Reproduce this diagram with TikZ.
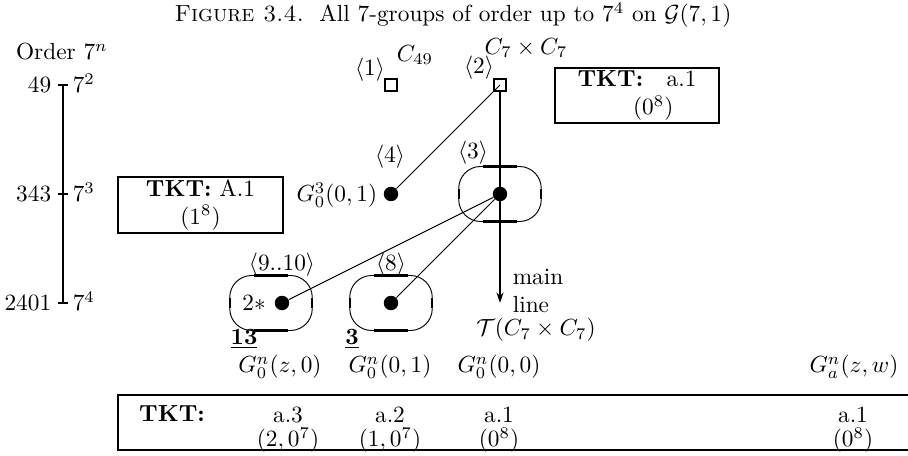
\documentclass[tikz,border=0pt]{standalone}
\usepackage{amsmath, amssymb}
\usetikzlibrary{positioning, arrows.meta, calc}

\begin{document}
\begin{tikzpicture}[
  x=0.429pt, y=-0.429pt,
  every node/.style={inner sep=1pt},
  box/.style={rectangle, draw, line width=1.1pt, inner sep=0pt, outer sep=0pt},
  sq/.style={rectangle, draw, line width=0.9pt, minimum size=5.1pt, inner sep=0pt, outer sep=0pt},
  grp/.style={circle, fill, minimum size=6.2pt, inner sep=0pt},
  oval/.style={rectangle, draw, rounded corners=9.4pt, minimum width=35.4pt, minimum height=23.6pt, inner sep=0pt, outer sep=0pt, line width=0.4pt},
  ovalseg/.style={line width=1pt},
  thin/.style={line width=0.45pt},
  arr/.style={-{Stealth[length=4.5pt, width=3pt]}, line width=0.9pt},
  axis/.style={line width=1.1pt}
]
\useasboundingbox (0,0) rectangle (908,456);
\clip (0,0) rectangle (908,456);

\node (title) at (453,15) {\textsc{Figure 3.4.}\ \ All 7-groups of order up to $7^4$ on $\mathcal{G}(7,1)$};
\node (order) at (62,52) {Order $7^n$};

\draw[axis] (63,85) -- (63,303);
\foreach \y/\num/\p in {85/49/2, 194/343/3, 303/2401/4} {
  \draw[axis] (58,\y) -- (68,\y);
  \node[anchor=base east] (o\p) at (54,\y+7.5) {$\num$};
  \node[anchor=base west] (p\p) at (70,\y+7.5) {$7^{\p}$};
}

\node[sq] (s1) at (391,85) {};
\node[sq] (s2) at (500,85) {};
\node[grp] (d4) at (391,194) {};
\node[oval] (o3) at (500,194) {};
\node[grp] (d3) at (500,194) {};
\node[oval] (o910) at (271,303) {};
\node[grp] (d910) at (282,303) {};
\node[oval] (o8) at (391,303) {};
\node[grp] (d8) at (391,303) {};
\coordinate (ml) at (500,303);

\foreach \o in {o3, o910, o8} {
  \draw[ovalseg] ([xshift=-7.3pt]\o.north) -- ([xshift=7.3pt]\o.north);
  \draw[ovalseg] ([xshift=-7.3pt]\o.south) -- ([xshift=7.3pt]\o.south);
  \draw[ovalseg] ([yshift=-2.1pt]\o.west) -- ([yshift=2.1pt]\o.west);
  \draw[ovalseg] ([yshift=-2.1pt]\o.east) -- ([yshift=2.1pt]\o.east);
}

\draw[arr] (s2) -- (ml);
\draw[thin] (s2.center) -- (d4);
\draw[thin] (d3) -- (d910);
\draw[thin] (d3) -- (d8);

\node (c49) at (415,55) {$C_{49}$};
\node (c77) at (526,48) {$C_7\times C_7$};
\node (l1) at (370,70) {$\langle 1\rangle$};
\node (l2) at (479,68) {$\langle 2\rangle$};
\node (l4) at (390,157) {$\langle 4\rangle$};
\node (l3) at (473,153) {$\langle 3\rangle$};
\node (l910) at (282,265) {$\langle 9..10\rangle$};
\node (l8) at (391,265) {$\langle 8\rangle$};
\node[anchor=east] (g301) at (380,195) {$G_0^3(0,1)$};
\node (star) at (254,303) {$2*$};
\node (n13) at (244,339) {$\underline{\mathbf{13}}$};
\node (n3) at (352,339) {$\underline{\mathbf{3}}$};
\node[align=left, anchor=west] (main) at (510,291) {main\\line};
\node (tcc) at (536,330) {$\mathcal{T}(C_7\times C_7)$};

\node[box, minimum width=70.4pt, minimum height=23.6pt, align=center] (tkta) at (637,95.5) {\textbf{TKT:}\quad a.1\\\hspace*{14pt}$(0^8)$};
\node[box, minimum width=70.8pt, minimum height=24pt, align=center] (tktA) at (200.5,205) {\textbf{TKT:} A.1\\$(1^8)$};

\foreach \x/\g [count=\i] in {280/{G_0^n(z,0)}, 390/{G_0^n(0,1)}, 499/{G_0^n(0,0)}, 854/{G_a^n(z,w)}}
  \node (gl\i) at (\x,367) {$\g$};

\node[box, minimum width=341.9pt, minimum height=23.6pt] (tktrow) at (516.5,422.5) {};
\node (tk) at (172,414) {\textbf{TKT:}};
\foreach \x/\a/\b [count=\i] in {288/a.3/{(2,0^7)}, 390/a.2/{(1,0^7)}, 499/a.1/{(0^8)}, 853/a.1/{(0^8)}} {
  \node (ta\i) at (\x,415) {\a};
  \node (tb\i) at (\x,440) {$\b$};
}
\end{tikzpicture}
\end{document}
